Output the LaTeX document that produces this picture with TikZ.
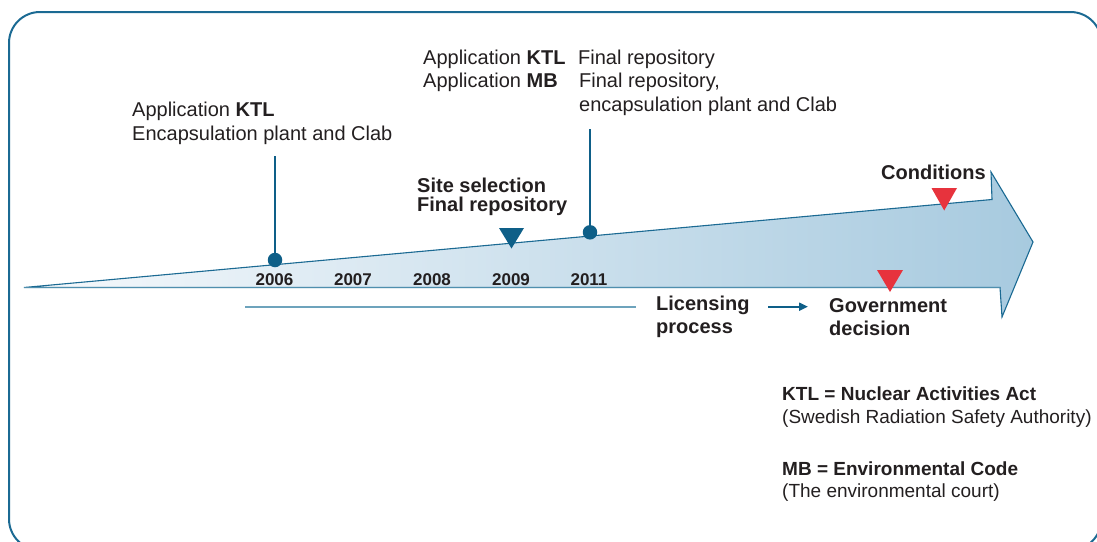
\documentclass[tikz,border=0pt]{standalone}
\usepackage{fontspec}
\setmainfont{Liberation Sans}
\usetikzlibrary{arrows.meta}
\definecolor{frameblue}{HTML}{1B6A93}
\definecolor{darkblue}{HTML}{0E5F88}
\definecolor{lightline}{HTML}{6DA3BC}
\definecolor{bottomline}{HTML}{4F8FAE}
\definecolor{arrowL}{HTML}{F6F9FC}
\definecolor{arrowR}{HTML}{A7CADF}
\definecolor{redmark}{HTML}{E7333D}
\definecolor{txt}{HTML}{231F20}
\begin{document}
\begin{tikzpicture}[x=1pt,y=-1pt,
  lbl/.style={anchor=base west, inner sep=0pt, text=txt, font=\fontsize{20}{24}\selectfont},
  blbl/.style={anchor=base west, inner sep=0pt, text=txt, font=\fontsize{20}{24}\selectfont\bfseries},
  yr/.style={anchor=base, inner sep=0pt, text=txt, font=\fontsize{17}{20}\selectfont\bfseries},
  leg/.style={anchor=base west, inner sep=0pt, text=txt, font=\fontsize{19}{22}\selectfont},
  bleg/.style={anchor=base west, inner sep=0pt, text=txt, font=\fontsize{19}{22}\selectfont\bfseries},
  dot/.style={circle, fill=darkblue, inner sep=0pt, minimum size=14.5pt},
  stem/.style={draw=darkblue, line width=2.6pt},
  marker/.style={line width=0pt}
]
\useasboundingbox (0,0) rectangle (1097,541);
\clip (0,0) rectangle (1097,541);
% frame
\draw[frameblue, line width=2pt, rounded corners=31pt] (9,12) rectangle (1101.5,550);

% big arrow
\path[left color=arrowL, right color=arrowR, draw=frameblue, line width=1.1pt, line join=miter]
  (24,287.5) -- (1000,287.5) -- (1002,317) -- (1033,242) -- (991,172) -- (992,199.5) -- cycle;
\coordinate (bl) at (24,287.5);
\coordinate (br) at (1000,287.5);
\draw[bottomline, line width=1.8pt] (bl) -- (br);

% stems and dots
\node[dot] (d06) at (275,260) {};
\coordinate (t06) at (275,156);
\draw[stem] (d06.center) -- (t06);
\node[dot] (d11) at (590,232.3) {};
\coordinate (t11) at (590,129);
\draw[stem] (d11.center) -- (t11);

% triangles
\fill[darkblue] (499,228) -- (524,228) -- (511.5,248.5) -- cycle;
\fill[redmark] (931.5,188) -- (957,188) -- (944.2,210.5) -- cycle;
\fill[redmark] (877,270) -- (903,270) -- (890,292) -- cycle;

% years
\node[yr] (y06) at (274.5,285) {2006};
\node[yr] (y07) at (353,285) {2007};
\node[yr] (y08) at (432,285) {2008};
\node[yr] (y09) at (511,285) {2009};
\node[yr] (y11) at (589,285) {2011};

% labels 2006
\node[lbl] (a1) at (132,116.5) {Application \textbf{KTL}};
\node[lbl] (a2) at (132,140.5) {Encapsulation plant and Clab};

% labels 2011
\node[lbl] (b1) at (423,64) {Application \textbf{KTL}};
\node[lbl] (b2) at (423,87.8) {Application \textbf{MB}};
\node[lbl] (c1) at (578,64) {Final repository};
\node[lbl] (c2) at (579,87.8) {Final repository,};
\node[lbl] (c3) at (579,111.6) {encapsulation plant and Clab};

% site selection
\node[blbl] (s1) at (417,192.3) {Site selection};
\node[blbl] (s2) at (417,211) {Final repository};

% conditions
\node[blbl] (cond) at (881,179) {Conditions};

% licensing process
\coordinate (ls) at (245,306.7);
\coordinate (le) at (635.7,306.7);
\draw[lightline, line width=1.6pt] (ls) -- (le);
\node[blbl] (l1) at (656,310.7) {Licensing};
\node[blbl] (l2) at (656,333.2) {process};
\coordinate (as) at (768,306.7);
\coordinate (ae) at (808,306.7);
\draw[darkblue, line width=2pt, -{Triangle[length=9pt,width=8pt]}] (as) -- (ae);
\node[blbl] (g1) at (829,312.7) {Government};
\node[blbl] (g2) at (829,335.7) {decision};

% legend
\node[bleg] (k1) at (782,400.7) {KTL = Nuclear Activities Act};
\node[leg] (k2) at (782,423.3) {(Swedish Radiation Safety Authority)};
\node[bleg] (m1) at (782,475) {MB = Environmental Code};
\node[leg] (m2) at (782,497.7) {(The environmental court)};
\end{tikzpicture}
\end{document}
